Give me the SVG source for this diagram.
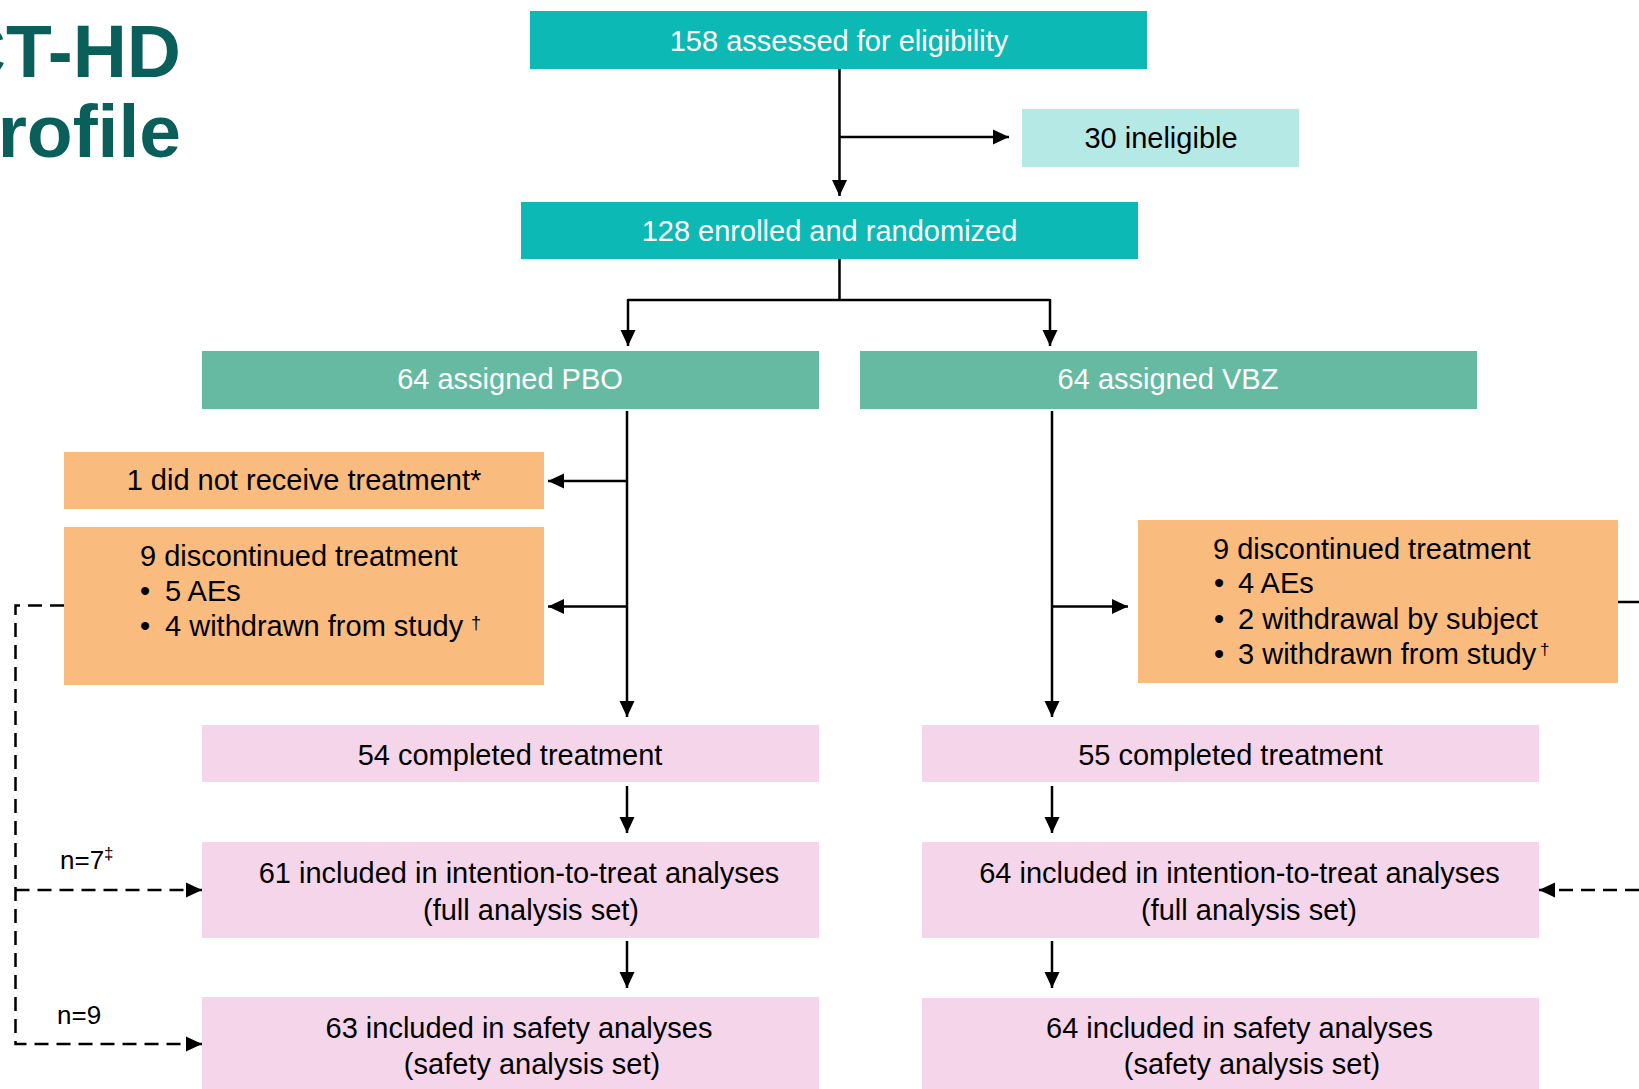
<svg xmlns="http://www.w3.org/2000/svg" width="1639" height="1089" viewBox="0 0 1639 1089">
<style>
text{font-family:"Liberation Sans",Arial,Helvetica,sans-serif;}
.t{font-size:29px;}
.w{fill:#ffffff;}
.k{fill:#000000;}
.title{font-size:75px;font-weight:bold;fill:#0A5F5A;}
.teal{fill:#0DB9B5;}
.lteal{fill:#B5E9E6;}
.green{fill:#66BAA2;}
.orange{fill:#F9BB7E;}
.pink{fill:#F5D5EA;}
.c{stroke:#000;stroke-width:2.5;fill:none;}
.d{stroke-dasharray:14 8;}
.lab{font-size:26px;fill:#000;}
</style>
<defs>
<marker id="ah" markerUnits="userSpaceOnUse" markerWidth="16" markerHeight="16" refX="16" refY="8" orient="auto" viewBox="0 0 16 16"><path d="M0,0.5 L16,8 L0,15.5 z" fill="#000"/></marker>
</defs>
<rect width="1639" height="1089" fill="#ffffff"/>
<g id="title">
<text class="title" x="181" y="77" text-anchor="end">CT-HD</text>
<text class="title" x="181" y="157" text-anchor="end">rofile</text>
</g>
<g id="connectors">
<path class="c" d="M839.5,69 V196" marker-end="url(#ah)"/>
<path class="c" d="M839.5,137 H1009" marker-end="url(#ah)"/>
<path class="c" d="M839.5,259 V300 M628,300 H1050"/>
<path class="c" d="M628,299 V346" marker-end="url(#ah)"/>
<path class="c" d="M1050,299 V346" marker-end="url(#ah)"/>
<path class="c" d="M627,411 V717" marker-end="url(#ah)"/>
<path class="c" d="M627,481 H548" marker-end="url(#ah)"/>
<path class="c" d="M627,606.5 H548" marker-end="url(#ah)"/>
<path class="c" d="M1052,411 V717" marker-end="url(#ah)"/>
<path class="c" d="M1052,606.5 H1128" marker-end="url(#ah)"/>
<path class="c" d="M627,786 V833" marker-end="url(#ah)"/>
<path class="c" d="M627,941 V988" marker-end="url(#ah)"/>
<path class="c" d="M1052,786 V833" marker-end="url(#ah)"/>
<path class="c" d="M1052,941 V988" marker-end="url(#ah)"/>
<path class="c d" d="M64,605.5 H15.5 V1044 H202" marker-end="url(#ah)"/>
<path class="c d" d="M15.5,890 H202" marker-end="url(#ah)"/>
<path class="c" d="M1618,602 H1639"/>
<path class="c d" d="M1639,890 H1539" marker-end="url(#ah)"/>
<text class="lab" x="60" y="869">n=7<tspan font-size="17" dy="-10">‡</tspan></text>
<text class="lab" x="57" y="1024">n=9</text>
</g>
<g id="assessed">
<rect class="teal" x="530" y="11" width="617" height="58"/>
<text class="t w" x="839" y="51" text-anchor="middle">158 assessed for eligibility</text>
</g>
<g id="ineligible">
<rect class="lteal" x="1022" y="109" width="277" height="58"/>
<text class="t k" x="1161" y="148" text-anchor="middle">30 ineligible</text>
</g>
<g id="enrolled">
<rect class="teal" x="521" y="202" width="617" height="57"/>
<text class="t w" x="829.5" y="241" text-anchor="middle">128 enrolled and randomized</text>
</g>
<g id="pbo">
<rect class="green" x="202" y="351" width="617" height="58"/>
<text class="t w" x="510" y="389" text-anchor="middle">64 assigned PBO</text>
</g>
<g id="vbz">
<rect class="green" x="860" y="351" width="617" height="58"/>
<text class="t w" x="1168" y="389" text-anchor="middle">64 assigned VBZ</text>
</g>
<g id="pbo-notreat">
<rect class="orange" x="64" y="452" width="480" height="57"/>
<text class="t k" x="304" y="490" text-anchor="middle">1 did not receive treatment*</text>
</g>
<g id="pbo-disc">
<rect class="orange" x="64" y="527" width="480" height="158"/>
<text class="t k" x="140" y="566">9 discontinued treatment</text>
<text class="t k" x="140" y="601">•</text>
<text class="t k" x="165" y="601">5 AEs</text>
<text class="t k" x="140" y="636">•</text>
<text class="t k" x="165" y="636">4 withdrawn from study<tspan x="471" y="629" font-size="18">†</tspan></text>
</g>
<g id="vbz-disc">
<rect class="orange" x="1138" y="520" width="480" height="163"/>
<text class="t k" x="1213" y="559">9 discontinued treatment</text>
<text class="t k" x="1214" y="593">•</text>
<text class="t k" x="1238" y="593">4 AEs</text>
<text class="t k" x="1214" y="628.5">•</text>
<text class="t k" x="1238" y="628.5">2 withdrawal by subject</text>
<text class="t k" x="1214" y="664">•</text>
<text class="t k" x="1238" y="664">3 withdrawn from study<tspan x="1540" y="655" font-size="17">†</tspan></text>
</g>
<g id="pbo-completed">
<rect class="pink" x="202" y="725" width="617" height="57"/>
<text class="t k" x="510" y="765" text-anchor="middle">54 completed treatment</text>
</g>
<g id="vbz-completed">
<rect class="pink" x="922" y="725" width="617" height="57"/>
<text class="t k" x="1230.5" y="765" text-anchor="middle">55 completed treatment</text>
</g>
<g id="pbo-itt">
<rect class="pink" x="202" y="842" width="617" height="96"/>
<text class="t k" x="519" y="883" text-anchor="middle">61 included in intention-to-treat analyses</text>
<text class="t k" x="531" y="920" text-anchor="middle">(full analysis set)</text>
</g>
<g id="vbz-itt">
<rect class="pink" x="922" y="842" width="617" height="96"/>
<text class="t k" x="1239.5" y="883" text-anchor="middle">64 included in intention-to-treat analyses</text>
<text class="t k" x="1249" y="920" text-anchor="middle">(full analysis set)</text>
</g>
<g id="pbo-safety">
<rect class="pink" x="202" y="997" width="617" height="92"/>
<text class="t k" x="519" y="1038" text-anchor="middle">63 included in safety analyses</text>
<text class="t k" x="532" y="1074" text-anchor="middle">(safety analysis set)</text>
</g>
<g id="vbz-safety">
<rect class="pink" x="922" y="998" width="617" height="91"/>
<text class="t k" x="1239.5" y="1038" text-anchor="middle">64 included in safety analyses</text>
<text class="t k" x="1252" y="1074" text-anchor="middle">(safety analysis set)</text>
</g>
</svg>
